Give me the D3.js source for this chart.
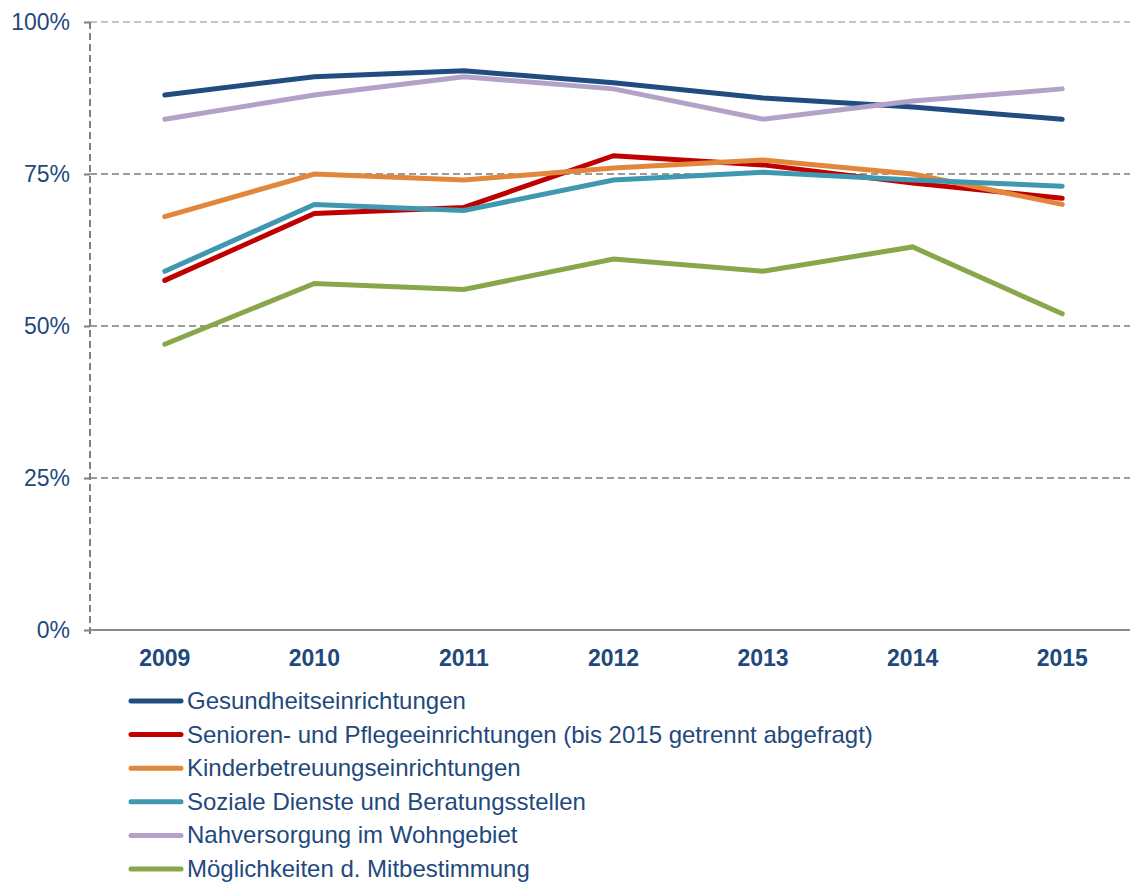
<!DOCTYPE html>
<html>
<head>
<meta charset="utf-8">
<script src="https://cdnjs.cloudflare.com/ajax/libs/d3/7.8.5/d3.min.js"></script>
<style>
  body { margin: 0; background: #fff; }
  text { font-family: "Liberation Sans", Arial, sans-serif; }
</style>
</head>
<body>
<div id="chart-area"></div>
<script>
var years = ["2009", "2010", "2011", "2012", "2013", "2014", "2015"]
var yTicks = [0, 25, 50, 75, 100]

var gesundheit = [88, 91, 92, 90, 87.5, 86, 84]
var senioren = [57.5, 68.5, 69.5, 78, 76.5, 73.5, 71]
var kinder = [68, 75, 74, 76, 77.3, 75, 70]
var soziale = [59, 70, 69, 74, 75.3, 74, 73]
var nahversorgung = [84, 88, 91, 89, 84, 87, 89]
var mitbestimmung = [47, 57, 56, 61, 59, 63, 52]

var seriesNames = [
    "Gesundheitseinrichtungen",
    "Senioren- und Pflegeeinrichtungen (bis 2015 getrennt abgefragt)",
    "Kinderbetreuungseinrichtungen",
    "Soziale Dienste und Beratungsstellen",
    "Nahversorgung im Wohngebiet",
    "Möglichkeiten d. Mitbestimmung"
]
var seriesColors = ["#214C80", "#C00000", "#E0873C", "#3F98AF", "#B3A2C7", "#88A74A"]
var seriesValues = [gesundheit, senioren, kinder, soziale, nahversorgung, mitbestimmung]

var series = seriesNames.map((name, i) => ({
    name: name,
    color: seriesColors[i],
    values: seriesValues[i].map((v, j) => ({year: years[j], value: v}))
}))

var cw = 1130
var ch = 882
var textColor = "#1F497D"

var svg = d3.select("#chart-area").append("svg")
    .attr("width", cw)
    .attr("height", ch)

var x = d3.scaleBand()
    .domain(years)
    .range([90, 1137])

var y = d3.scaleLinear()
    .domain([0, 100])
    .range([630, 22])

// gridlines
svg.append("g")
    .selectAll("line")
    .data(yTicks.filter(d => d > 0)).enter().append("line")
        .attr("x1", 90)
        .attr("x2", cw)
        .attr("y1", d => y(d))
        .attr("y2", d => y(d))
        .attr("stroke", d => d == 100 ? "#c4c4c4" : "#9a9a9a")
        .attr("stroke-width", 2)
        .attr("stroke-dasharray", "7,4")

// y axis
var leftAxis = d3.axisLeft(y)
    .tickValues(yTicks)
    .tickSize(6)
    .tickPadding(14)
    .tickFormat(d => d + "%")

var yAxis = svg.append("g")
    .attr("class", "left axis")
    .attr("transform", "translate(90, 0)")
    .call(leftAxis)

yAxis.select(".domain")
    .attr("stroke", "#808080")
    .attr("stroke-width", 2)
    .attr("stroke-dasharray", "7,4")
    .attr("d", "M0," + y(100) + "V" + (y(0) + 6))
yAxis.selectAll(".tick line")
    .attr("stroke", "#808080")
    .attr("stroke-width", 2)
yAxis.selectAll("text")
    .attr("fill", textColor)
    .attr("font-size", "23px")

// x axis
var bottomAxis = d3.axisBottom(x)
    .tickSize(0)
    .tickPadding(20)

var xAxis = svg.append("g")
    .attr("class", "bottom axis")
    .attr("transform", "translate(0, " + y(0) + ")")
    .call(bottomAxis)

xAxis.select(".domain")
    .attr("stroke", "#8c8c8c")
    .attr("stroke-width", 2)
    .attr("d", "M90,0H" + cw)
xAxis.selectAll("text")
    .attr("fill", textColor)
    .attr("font-size", "23px")
    .attr("font-weight", "bold")

// lines
var line = d3.line()
    .x(d => x(d.year) + x.bandwidth() / 2)
    .y(d => y(d.value))

svg.append("g")
    .selectAll("path")
    .data(series).enter().append("path")
        .attr("d", d => line(d.values))
        .attr("fill", "none")
        .attr("stroke", d => d.color)
        .attr("stroke-width", 5)
        .attr("stroke-linecap", "round")
        .attr("stroke-linejoin", "miter")

// legend
var legend = svg.append("g")
    .selectAll("g")
    .data(series).enter().append("g")
        .attr("transform", (d, i) => "translate(0, " + (701 + i * 33.6) + ")")

legend.append("line")
    .attr("x1", 131)
    .attr("x2", 181)
    .attr("stroke", d => d.color)
    .attr("stroke-width", 5)
    .attr("stroke-linecap", "round")

legend.append("text")
    .attr("x", 187)
    .attr("y", 8)
    .attr("fill", textColor)
    .attr("font-size", "24px")
    .text(d => d.name)
</script>
</body>
</html>
